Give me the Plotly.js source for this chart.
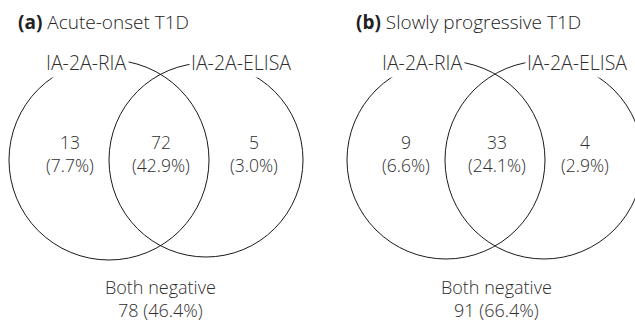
<!DOCTYPE html>
<html><head><meta charset="utf-8">
<script src="https://cdn.plot.ly/plotly-3.0.1.min.js"></script>
<style>html,body{margin:0;padding:0;background:#fff}</style>
</head><body><div id="chart" style="width:635px;height:324px"></div>
<script>
// ---- data ----
const panelLetters = ["(a)", "(b)"];
const panelTitles = ["Acute-onset T1D", "Slowly progressive T1D"];
const setLabels = ["IA-2A-RIA", "IA-2A-ELISA"];
const onlyRIA = [13, 9];
const onlyRIAPct = [7.7, 6.6];
const bothPos = [72, 33];
const bothPosPct = [42.9, 24.1];
const onlyELISA = [5, 4];
const onlyELISAPct = [3.0, 2.9];
const bothNeg = [78, 91];
const bothNegPct = [46.4, 66.4];
const negLabel = "Both negative";

// ---- layout geometry (pixel-like coordinates on hidden axes) ----
const geo = [
  {cx:[109, 206], r:[100, 97], cy:160, regX:[70, 161, 254], setX:[86, 241], titleX:16, negX:160},
  {cx:[446, 544], r:[99, 99],  cy:160, regX:[406, 497, 585], setX:[422, 577], titleX:354, negX:496}
];
const txtColor = "#2e2e2e";
const fam = "Open Sans, Noto Sans, sans-serif";
const numSize = 17.5, labSize = 19.5, titleSize = 19, negSize = 18;

const shapes = [], ann = [];
geo.forEach((g, p) => {
  g.cx.forEach((cx, i) => {
    shapes.push({type:"circle", xref:"x", yref:"y", x0:cx-g.r[i], x1:cx+g.r[i],
      y0:g.cy-g.r[i], y1:g.cy+g.r[i], line:{color:"#1a1a1a", width:1}, fillcolor:"rgba(0,0,0,0)", layer:"above"});
  });
  const f = s => ({family:fam, size:s, color:txtColor, weight:300});
  // title
  ann.push({xref:"x", yref:"y", x:g.titleX, y:22, xanchor:"left", yanchor:"middle", showarrow:false,
    text:"<b>"+panelLetters[p]+"</b> "+panelTitles[p], font:{family:fam, size:titleSize, color:"#222", weight:300}});
  // set labels
  setLabels.forEach((s, i) => {
    ann.push({xref:"x", yref:"y", x:g.setX[i], y:62, xanchor:"center", yanchor:"middle", showarrow:false,
      text:s, font:f(labSize), bgcolor:"#ffffff", borderpad:1});
  });
  const vals = [[onlyRIA[p], onlyRIAPct[p]], [bothPos[p], bothPosPct[p]], [onlyELISA[p], onlyELISAPct[p]]];
  vals.forEach((v, i) => {
    ann.push({xref:"x", yref:"y", x:g.regX[i], y:153, xanchor:"center", yanchor:"middle", showarrow:false,
      text:String(v[0])+"<br>("+v[1].toFixed(1)+"%)", font:f(numSize)});
  });
  ann.push({xref:"x", yref:"y", x:g.negX, y:298, xanchor:"center", yanchor:"middle", showarrow:false,
    borderpad:0, text:negLabel+"<br>"+bothNeg[p]+" ("+bothNegPct[p].toFixed(1)+"%)", font:f(negSize)});
});

const layout = {
  width:635, height:324, margin:{l:0, r:0, t:0, b:0},
  paper_bgcolor:"#fff", plot_bgcolor:"#fff", showlegend:false,
  xaxis:{range:[0,635], visible:false, fixedrange:true},
  yaxis:{range:[324,0], visible:false, fixedrange:true},
  shapes:shapes, annotations:ann
};
Plotly.newPlot("chart", [{x:[], y:[], type:"scatter", mode:"markers", hoverinfo:"skip"}], layout, {staticPlot:true, displayModeBar:false});
</script></body></html>
